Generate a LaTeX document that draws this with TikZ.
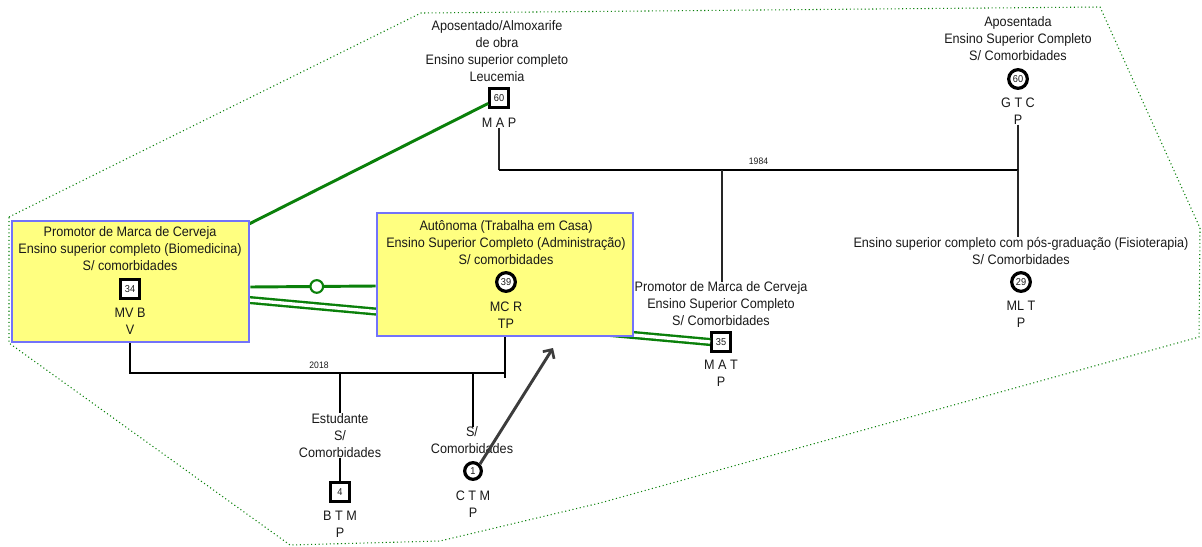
\documentclass[tikz,border=0pt]{standalone}
\usepackage{fontspec}
\setmainfont{Liberation Sans}[FakeStretch=0.92]
\usetikzlibrary{arrows.meta}

\definecolor{cardfill}{RGB}{255,255,128}
\definecolor{cardline}{RGB}{115,115,250}
\definecolor{tiegreen}{RGB}{10,128,10}
\definecolor{ink}{RGB}{25,25,25}
\definecolor{pointer}{RGB}{60,60,60}

\tikzset{
  lbl/.style={font=\fontsize{10.3}{12.75}\selectfont, align=center, inner sep=0pt, text=ink},
  yearlbl/.style={font=\fontsize{7}{8}\selectfont, inner sep=0pt, text=ink},
  agenum/.style={font=\fontsize{7.5}{8}\selectfont, inner sep=0pt, text=ink},
  card/.style={draw=cardline, fill=cardfill, line width=2pt, inner sep=0pt},
  malesym/.style={agenum, draw=black, fill=white, line width=2.2pt, rectangle, minimum size=14pt},
  femalesym/.style={agenum, draw=black, fill=white, line width=2.4pt, circle, minimum size=14pt},
  tie/.style={draw=tiegreen, line width=2.2pt},
  tiedouble/.style={draw=tiegreen, line width=1.8pt, double=white, double distance=2.5pt},
  tiering/.style={circle, draw=tiegreen, fill=white, line width=1.6pt, minimum size=9.5pt, inner sep=0pt},
  couple/.style={draw=black, line width=1.6pt},
  descent/.style={draw=black!85, line width=0.8pt},
  household/.style={draw=tiegreen, dotted, line width=0.8pt},
  pointerline/.style={draw=pointer, line width=2.2pt, -{Straight Barb[length=5pt,width=10pt,line width=2pt]}}
}

\begin{document}
\begin{tikzpicture}[x=0.75pt,y=-0.75pt]
\useasboundingbox (0,0) rectangle (1202,546);

% household boundary
\draw[household] (9,217) -- (421,13) -- (1100,7) -- (1200,228) -- (1199,337)
  -- (600,503) -- (440,541) -- (290,545) -- (9,343) -- cycle;

% ---- people outside the cards ----
% M A P
\node[lbl] (maptxt) at (497,50.75) {Aposentado/Almoxarife\\de obra\\Ensino superior completo\\Leucemia};
\node[malesym] (mapsym) at (499,98) {60};
\node[lbl] (mapname) at (499,123) {M A P};

% G T C
\node[lbl] (gtctxt) at (1018,39) {Aposentada\\Ensino Superior Completo\\S/ Comorbidades};
\node[femalesym] (gtcsym) at (1018,79) {60};
\node[lbl] (gtcname) at (1018,111) {G T C\\P};

% M L T
\node[lbl] (mlttxt) at (1021,251) {Ensino superior completo com pós-graduação (Fisioterapia)\\S/ Comorbidades};
\node[femalesym] (mltsym) at (1021,282) {29};
\node[lbl] (mltname) at (1021,314.5) {ML T\\P};

% M A T
\node[lbl] (mattxt) at (721,304) {Promotor de Marca de Cerveja\\Ensino Superior Completo\\S/ Comorbidades};
\node[malesym] (matsym) at (721,342) {35};
\node[lbl] (matname) at (721,373.5) {M A T\\P};

% B T M
\node[lbl] (btmtxt) at (340,435.5) {Estudante\\S/\\Comorbidades};
\node[malesym] (btmsym) at (340,492) {4};
\node[lbl] (btmname) at (340,524.5) {B T M\\P};

% C T M
\node[lbl] (ctmtxt) at (472,440.5) {S/\\Comorbidades};
\node[femalesym, minimum size=12.5pt] (ctmsym) at (473,471) {1};
\node[lbl] (ctmname) at (473,504.5) {C T M\\P};

% ---- relationship lines lying under the cards ----
\coordinate (lcardne) at (249,224);
\draw[tie] (lcardne) -- (mapsym);
\coordinate (dblstart) at (249,300);
\draw[tiedouble] (dblstart) -- (matsym.west);

% ---- cards ----
\node[card, minimum width=177.75pt, minimum height=90.75pt] (lcard) at (130.5,281.5) {};
\node[card, minimum width=192pt, minimum height=92.25pt] (mcard) at (505,274.5) {};

\node[lbl] (mvbtxt) at (130,249) {Promotor de Marca de Cerveja\\Ensino superior completo (Biomedicina)\\S/ comorbidades};
\node[malesym] (mvbsym) at (130,289) {34};
\node[lbl] (mvbname) at (130,321.5) {MV B\\V};

\node[lbl] (mcrtxt) at (506,242.3) {Autônoma (Trabalha em Casa)\\Ensino Superior Completo (Administração)\\S/ comorbidades};
\node[femalesym] (mcrsym) at (506,282) {39};
\node[lbl] (mcrname) at (506,315.5) {MC R\\TP};

% tie with ring between the two cards
\draw[tie] (lcard.east |- 0,287) -- node[tiering, pos=0.53] (ring) {} (mcard.west |- 0,286);

% ---- couple 1984 ----
\coordinate (c84l) at (499,170);
\coordinate (c84r) at (1018,170);
\draw[descent] (mapname.south) -- (c84l);
\draw[descent] (gtcname.south) -- (c84r);
\draw[couple] (c84l) -- node[yearlbl, pos=0.5, above=3pt] (y1984) {1984} (c84r);
\draw[couple] (c84r) -- ++(0,5);
\draw[descent] (mcard.north -| 506,170) -- (mcard.north -| 506,0);
\draw[descent] (722,170) -- (mattxt.north -| 722,0);
\draw[descent] (c84r) -- (mlttxt.north -| 1018,0);

% ---- couple 2018 ----
\coordinate (c18l) at (130,373);
\coordinate (c18r) at (505,373);
\draw[couple] (lcard.south -| 130,0) -- (c18l) -- (c18r);
\draw[couple] (mcard.south) -- (505,378);
\node[yearlbl] (y2018) at (319,365) {2018};
\draw[couple] (340,373) -- (btmtxt.north);
\draw[couple] (btmtxt.south) -- (btmsym.north);
\draw[couple] (473,373) -- (ctmtxt.north -| 473,0);

% pointer from C T M
\coordinate (ptrtip) at (553,348);
\draw[pointerline] (ctmsym.north east) -- (ptrtip);
\end{tikzpicture}
\end{document}
